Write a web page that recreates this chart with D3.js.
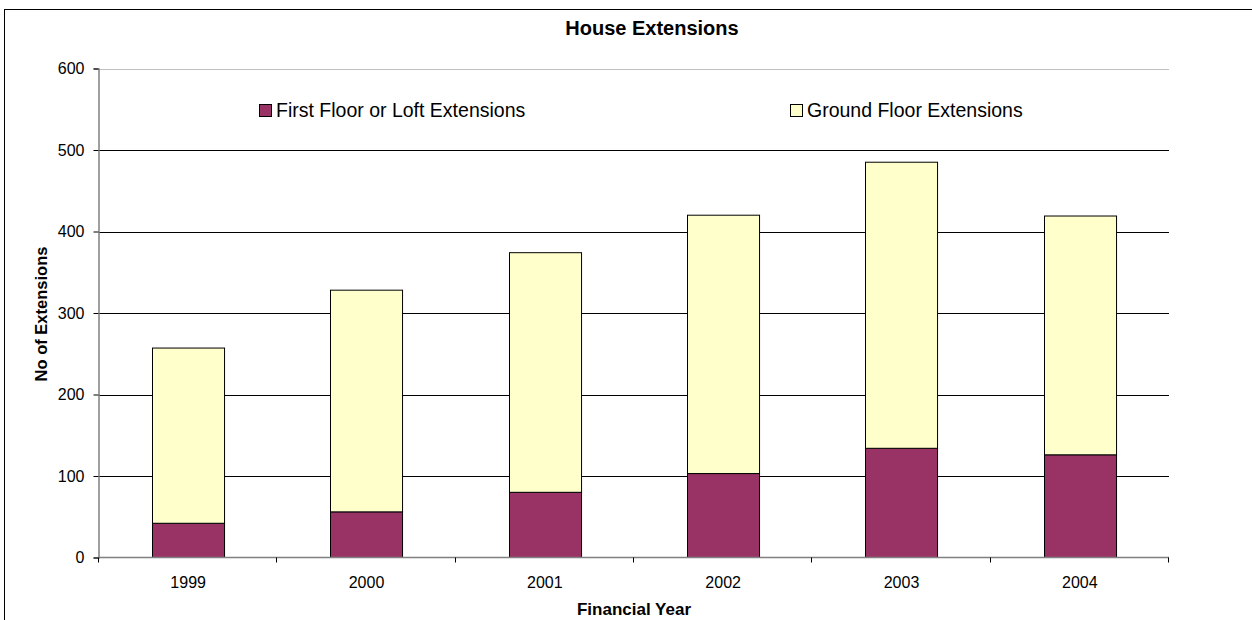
<!DOCTYPE html>
<html>
<head>
<meta charset="utf-8">
<script src="https://cdn.jsdelivr.net/npm/d3@7"></script>
<style>
  body { margin:0; background:#fff; }
  svg text { font-family: Arial, "Liberation Sans", sans-serif; fill:#000; }
</style>
</head>
<body>
<div id="grafico"></div>
<script>
// dados
const anos = ['1999','2000','2001','2002','2003','2004'];
const primeiroAndar = [42, 56, 80, 103, 134, 126];   // First Floor or Loft
const terreo = [215, 272, 294, 317, 351, 293];        // Ground Floor
const ticksY = [0, 100, 200, 300, 400, 500, 600];
const series = ['First Floor or Loft Extensions', 'Ground Floor Extensions'];
const cores = ['#993366', '#FFFFCC'];

const W = 1252, H = 620;
const m = {top: 68.5, right: 83, bottom: 62.5, left: 99};

const svg = d3.select('#grafico').append('svg')
  .attr('width', W).attr('height', H);

// moldura
svg.append('rect')
  .attr('x', 4.5).attr('y', 9.5)
  .attr('width', W + 20).attr('height', H + 20)
  .attr('fill', 'none').attr('stroke', '#000').attr('stroke-width', 1);

const x = d3.scaleBand().domain(anos)
  .range([m.left, W - m.right]).paddingInner(0.596).paddingOuter(0.298);
const y = d3.scaleLinear().domain([0, 600]).range([H - m.bottom, m.top]);

// grades
svg.append('g').selectAll('line').data(ticksY.slice(1)).join('line')
  .attr('x1', m.left).attr('x2', W - m.right)
  .attr('y1', d => Math.round(y(d)) + 0.5).attr('y2', d => Math.round(y(d)) + 0.5)
  .attr('stroke', d => d === 600 ? '#c0c0c0' : '#000').attr('stroke-width', 1);

// pilhas
const tabela = anos.map((a, i) => ({ano: a, f: primeiroAndar[i], g: terreo[i]}));
const pilha = d3.stack().keys(['f', 'g'])(tabela);

svg.append('g').selectAll('g').data(pilha).join('g')
  .attr('fill', (d, i) => cores[i])
  .selectAll('rect').data(d => d).join('rect')
  .attr('x', d => Math.round(x(d.data.ano)) + 0.5)
  .attr('y', d => y(d[1]))
  .attr('width', x.bandwidth())
  .attr('height', d => y(d[0]) - y(d[1]))
  .attr('stroke', '#000').attr('stroke-width', 1);

// eixo Y
const eixoY = svg.append('g')
  .attr('transform', `translate(${m.left - 0.5},0)`)
  .call(d3.axisLeft(y).tickValues(ticksY).tickSize(5).tickPadding(9));
eixoY.select('.domain').attr('stroke', '#808080').attr('stroke-width', 1.5);
eixoY.selectAll('.tick line').attr('stroke', '#000');
eixoY.selectAll('text').attr('font-size', 16).attr('font-family', 'Arial, "Liberation Sans", sans-serif');

// eixo X
const baseY = H - m.bottom;
svg.append('line')
  .attr('x1', m.left - 0.5).attr('x2', W - m.right)
  .attr('y1', baseY).attr('y2', baseY)
  .attr('stroke', '#808080').attr('stroke-width', 1.5);
// limites de categoria
const limites = d3.range(anos.length + 1).map(i => m.left + i * (W - m.right - m.left) / anos.length);
svg.append('g').selectAll('line').data(limites).join('line')
  .attr('x1', d => Math.round(d) - 0.5).attr('x2', d => Math.round(d) - 0.5)
  .attr('y1', baseY).attr('y2', baseY + 5)
  .attr('stroke', '#000');
svg.append('g').selectAll('text').data(anos).join('text')
  .attr('x', d => x(d) + x.bandwidth() / 2)
  .attr('y', 588)
  .attr('text-anchor', 'middle').attr('font-size', 16)
  .text(d => d);

// titulos
svg.append('text').attr('x', 652).attr('y', 35)
  .attr('text-anchor', 'middle').attr('font-size', 20).attr('font-weight', 'bold')
  .text('House Extensions');
svg.append('text').attr('x', 634).attr('y', 615)
  .attr('text-anchor', 'middle').attr('font-size', 17).attr('font-weight', 'bold')
  .text('Financial Year');
svg.append('text')
  .attr('transform', 'translate(47,314) rotate(-90)')
  .attr('text-anchor', 'middle').attr('font-size', 16.5).attr('font-weight', 'bold')
  .text('No of Extensions');

// legenda
const posLeg = [259, 790];
const leg = svg.append('g').selectAll('g').data(series).join('g')
  .attr('transform', (d, i) => `translate(${posLeg[i]},104)`);
leg.append('rect').attr('x', 0.5).attr('y', 0.5).attr('width', 12).attr('height', 12)
  .attr('fill', (d, i) => cores[i]).attr('stroke', '#000');
leg.append('text').attr('x', 17).attr('y', 13)
  .attr('font-size', 19.5).text(d => d);
</script>
</body>
</html>
